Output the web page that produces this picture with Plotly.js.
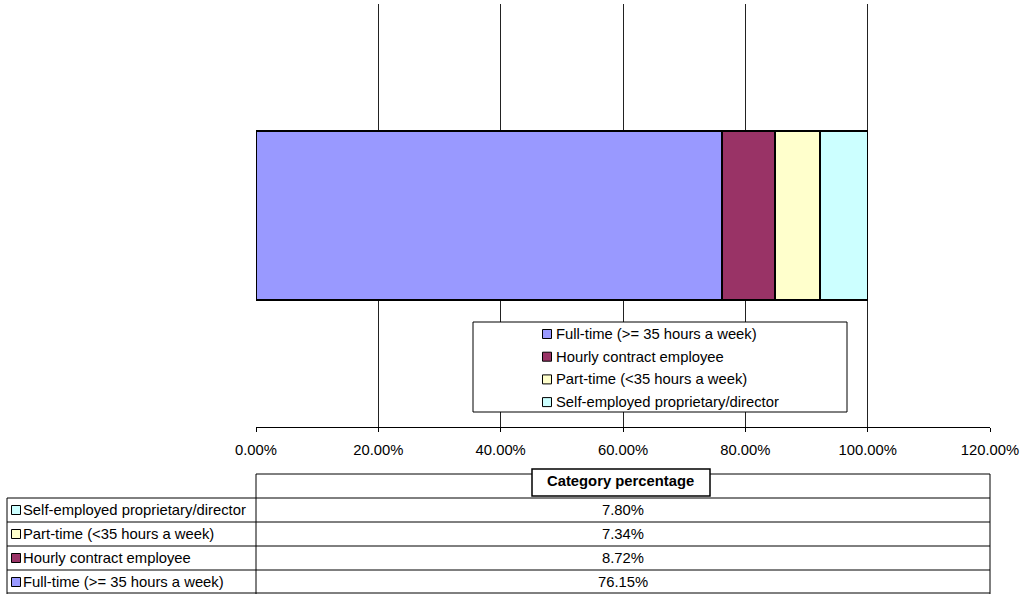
<!DOCTYPE html>
<html>
<head>
<meta charset="utf-8">
<script src="https://cdn.plot.ly/plotly-3.0.1.min.js"></script>
<style>
html,body{margin:0;padding:0;background:#fff;}
#chart{width:1021px;height:594px;}
</style>
</head>
<body>
<div id="chart"></div>
<script>
// ---- data ----
const category = ['Category percentage'];
const seriesNames = [
  'Full-time (>= 35 hours a week)',
  'Hourly contract employee',
  'Part-time (<35 hours a week)',
  'Self-employed proprietary/director'
];
const seriesValues = [0.7615, 0.0872, 0.0734, 0.0780];
const seriesColors = ['#9999FF', '#993366', '#FFFFCC', '#CCFFFF'];
const tickValues = [0, 0.2, 0.4, 0.6, 0.8, 1.0, 1.2];

// ---- geometry (pixels) ----
const W = 1021, H = 594;
const L = 256, R = 990, T = 4, B = 427;
const px = x => (x - L) / (R - L);
const py = y => (B - y) / (B - T);
const FONT = 'Liberation Sans, Arial, sans-serif';
const FS = 14.8;

const traces = seriesNames.map((n, i) => ({
  type: 'bar',
  orientation: 'h',
  name: n,
  y: category,
  x: [seriesValues[i]],
  marker: {color: seriesColors[i], line: {color: '#000', width: 1.5}},
  hoverinfo: 'x+name',
  showlegend: false
}));

const shapes = [];
const annotations = [];
const rect = (x0, y0, x1, y1, opts) => shapes.push(Object.assign({
  type: 'rect', xref: 'paper', yref: 'paper', layer: 'above',
  x0: px(x0), x1: px(x1), y0: py(y0), y1: py(y1),
  line: {color: '#000', width: 1}, fillcolor: 'rgba(0,0,0,0)'
}, opts || {}));
const line = (x0, y0, x1, y1, w) => shapes.push({
  type: 'line', xref: 'paper', yref: 'paper', layer: 'above',
  x0: px(x0), x1: px(x1), y0: py(y0), y1: py(y1),
  line: {color: '#000', width: w || 1}
});
const text = (x, y, t, xanchor, opts) => annotations.push(Object.assign({
  xref: 'paper', yref: 'paper', x: px(x), y: py(y), text: t,
  showarrow: false, xanchor: xanchor, yanchor: 'middle',
  font: {family: FONT, size: FS, color: '#000'}
}, opts || {}));

// ---- legend inside plot ----
rect(473, 322, 847, 412, {fillcolor: '#fff'});
const legY0 = 334, legStep = 22.7;
seriesNames.forEach((n, i) => {
  const cy = legY0 + i * legStep;
  rect(542.5, cy - 4.5, 551.5, cy + 4.5, {fillcolor: seriesColors[i]});
  text(554, cy, n, 'left');
});

// ---- data table ----
line(256, 474, 990, 474);
line(256, 474, 256, 594);
line(990, 474, 990, 594);
rect(532, 469, 710, 496, {fillcolor: '#fff', line: {color: '#000', width: 1.5}});
text(620, 481, '<b>' + category[0] + '</b>', 'center');
const rowTop = 498, rowH = 24;
line(7, rowTop, 7, 594);
const order = [3, 2, 1, 0];
order.forEach((si, r) => {
  const y0 = rowTop + r * rowH;
  line(7, y0, 990, y0);
  const cy = y0 + rowH / 2;
  rect(11.5, cy - 4.5, 20.5, cy + 4.5, {fillcolor: seriesColors[si]});
  text(21.5, cy, seriesNames[si], 'left');
  text(623, cy, (seriesValues[si] * 100).toFixed(2) + '%', 'center');
});
line(7, 593, 990, 593);

const layout = {
  width: W, height: H,
  margin: {l: L, r: W - R, t: T, b: H - B, pad: 0},
  paper_bgcolor: '#fff', plot_bgcolor: '#fff',
  barmode: 'stack',
  bargap: 0.6,
  showlegend: false,
  font: {family: FONT, size: FS, color: '#000'},
  xaxis: {
    range: [0, 1.2],
    tickvals: tickValues,
    tickformat: '.2%',
    ticks: 'outside', ticklen: 4, tickcolor: '#000', tickwidth: 1,
    showline: true, linecolor: '#000', linewidth: 1,
    showgrid: true, gridcolor: '#222', gridwidth: 1,
    zeroline: false,
    ticklabelstandoff: 5,
    tickfont: {family: FONT, size: FS, color: '#000'},
    fixedrange: true
  },
  yaxis: {
    showticklabels: false, showgrid: false, zeroline: false,
    showline: false, ticks: '', fixedrange: true
  },
  shapes: shapes,
  annotations: annotations
};

Plotly.newPlot('chart', traces, layout, {displayModeBar: false, staticPlot: true});
</script>
</body>
</html>
